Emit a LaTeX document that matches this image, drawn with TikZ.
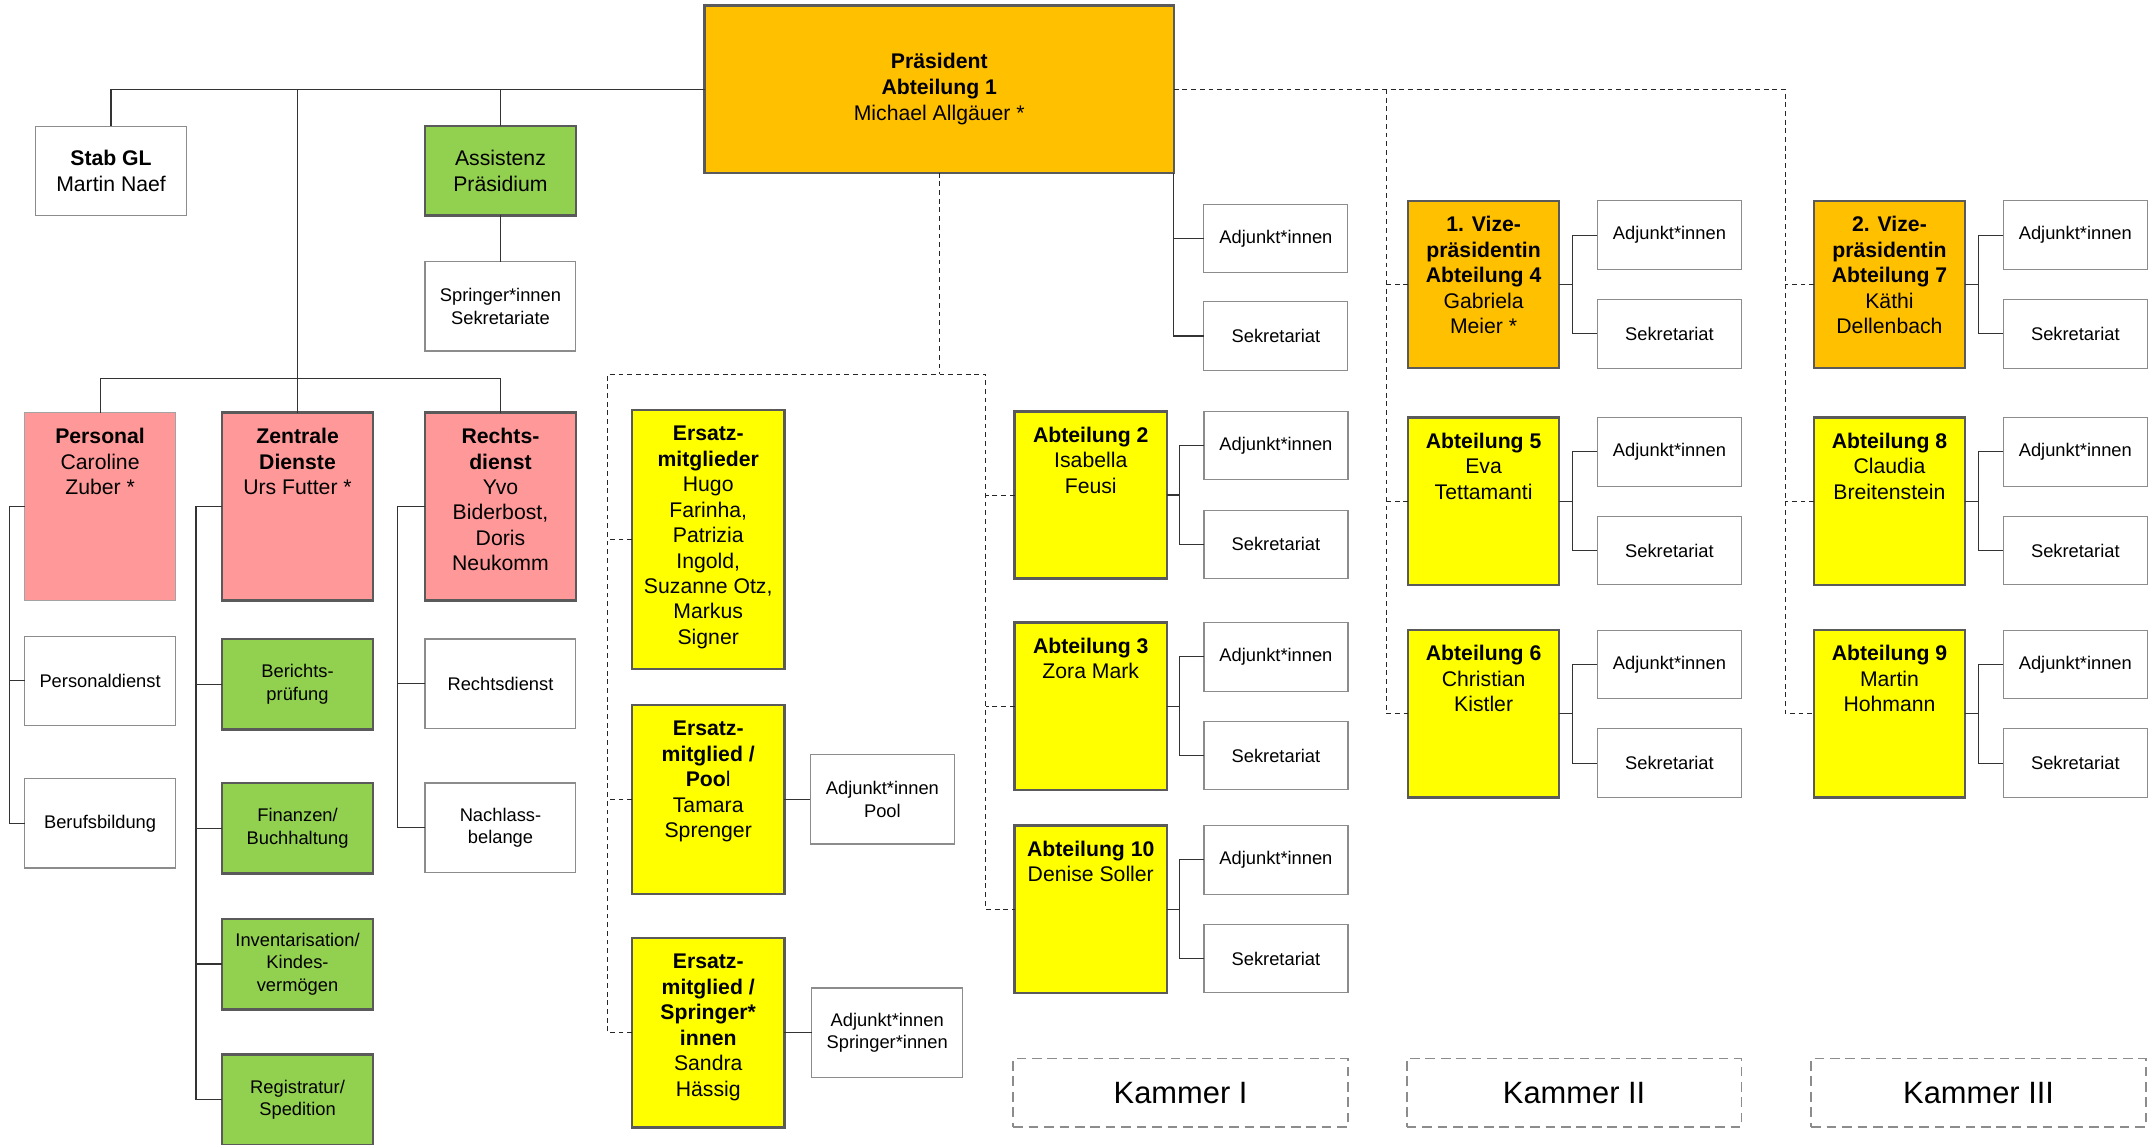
\documentclass[tikz,border=0pt]{standalone}
\usepackage{fontspec}
\setmainfont{Liberation Sans}
\usetikzlibrary{positioning}

\definecolor{presorange}{HTML}{FFC000}
\definecolor{abtyellow}{HTML}{FFFF00}
\definecolor{staffgreen}{HTML}{92D050}
\definecolor{servpink}{HTML}{FF9999}
\definecolor{boxline}{HTML}{5A5A5A}
\definecolor{thinline}{HTML}{8C8C8C}

% text block pinned to the top of a fixed-size box
\newcommand{\toptext}[3]{\parbox[c][#2][t]{#1}{\centering\rule{0pt}{16pt}#3}}

\begin{document}
\begin{tikzpicture}[
    x=0.025cm, y=-0.025cm,
    base/.style={rectangle, align=center, inner sep=1pt, outer sep=0pt},
    whitebox/.style={base, draw=thinline, line width=0.6pt, fill=white, minimum width=2.75cm, minimum height=1.625cm, font=\fontsize{9.5}{11.6}\selectfont},
    subbox/.style={whitebox, minimum width=2.625cm, minimum height=1.25cm},
    greenbox/.style={base, draw=boxline, line width=1.3pt, fill=staffgreen, minimum width=2.75cm, minimum height=1.65cm, font=\fontsize{9.5}{11.6}\selectfont},
    presbox/.style={base, draw=boxline, line width=1.3pt, fill=presorange, minimum width=8.55cm, minimum height=3.05cm, font=\fontsize{11}{13.5}\selectfont},
    headbox/.style={rectangle, draw=boxline, line width=1.3pt, inner sep=0pt, outer sep=0pt, font=\fontsize{11}{13.2}\selectfont},
    pinkbox/.style={headbox, fill=servpink},
    persbox/.style={pinkbox, draw=thinline!80, line width=0.8pt},
    abtbox/.style={headbox, fill=abtyellow},
    vizebox/.style={headbox, fill=presorange},
    kammer/.style={base, draw=thinline, line width=0.9pt, dash pattern=on 5pt off 3pt, minimum width=6.1cm, minimum height=1.25cm, font=\fontsize{16}{19}\selectfont},
    conn/.style={draw=black!80, line width=0.6pt},
    dline/.style={draw=black!85, line width=0.5pt, dash pattern=on 2.5pt off 2pt}
]
\useasboundingbox (0,0) rectangle (1568,835);
\fill[white] (0,0) rectangle (1568,835);

% Praesidium
\node[presbox] (pres) at (685,65) {\textbf{Präsident}\\\textbf{Abteilung 1}\\Michael Allgäuer *};
\node[whitebox, font=\fontsize{11}{13.2}\selectfont] (stab) at (81,124.5) {\textbf{Stab GL}\\Martin Naef};
\node[greenbox, minimum height=1.625cm, font=\fontsize{11}{13.2}\selectfont] (assist) at (365,124.5) {Assistenz\\Präsidium};
\node[whitebox, below=0.85cm of assist] (springer) {Springer*innen\\Sekretariate};
\node[subbox] (adjP) at (930.5,174) {Adjunkt*innen};
\node[subbox] (sekP) at (930.5,245) {Sekretariat};

% Personal
\node[persbox] (personal) at (73,369.5) {\toptext{2.75cm}{3.425cm}{\textbf{Personal}\\Caroline\\Zuber *}};
\node[whitebox, below=0.65cm of personal] (persdienst) {Personaldienst};
\node[whitebox, below=0.975cm of persdienst] (berufsbild) {Berufsbildung};

% Zentrale Dienste
\node[pinkbox] (zentral) at (217,369.5) {\toptext{2.75cm}{3.425cm}{\textbf{Zentrale}\\\textbf{Dienste}\\Urs Futter *}};
\node[greenbox, below=0.7cm of zentral] (bericht) {Berichts-\\prüfung};
\node[greenbox, below=0.975cm of bericht] (finanz) {Finanzen/\\Buchhaltung};
\node[greenbox, below=0.825cm of finanz] (invent) {Inventarisation/\\Kindes-\\vermögen};
\node[greenbox, below=0.825cm of invent] (registr) {Registratur/\\Spedition};

% Rechtsdienst
\node[pinkbox] (recht) at (365,369.5) {\toptext{2.75cm}{3.425cm}{\textbf{Rechts-}\\\textbf{dienst}\\Yvo\\Biderbost,\\Doris\\Neukomm}};
\node[whitebox, below=0.7cm of recht] (rechtsd) {Rechtsdienst};
\node[whitebox, below=1cm of rechtsd] (nachlass) {Nachlass-\\belange};

% Ersatzmitglieder
\node[abtbox] (ersatz) at (516.5,393.5) {\toptext{2.775cm}{4.725cm}{\textbf{Ersatz-}\\\textbf{mitglieder}\\Hugo\\Farinha,\\Patrizia\\Ingold,\\Suzanne Otz,\\Markus\\Signer}};
\node[abtbox, below=0.65cm of ersatz] (pool) {\toptext{2.775cm}{3.45cm}{\textbf{Ersatz-}\\\textbf{mitglied /}\\\textbf{Poo}l\\Tamara\\Sprenger}};
\node[abtbox, below=0.8cm of pool] (springE) {\toptext{2.775cm}{3.45cm}{\textbf{Ersatz-}\\\textbf{mitglied /}\\\textbf{Springer*}\\\textbf{innen}\\Sandra\\Hässig}};
\node[whitebox, minimum width=2.625cm, right=0.475cm of pool] (poolAdj) {Adjunkt*innen\\Pool};
\node[whitebox, right=0.5cm of springE] (springAdj) {Adjunkt*innen\\Springer*innen};

% Kammer I
\node[abtbox] (abt2) at (795.5,361) {\toptext{2.775cm}{3.05cm}{\textbf{Abteilung 2}\\Isabella\\Feusi}};
\node[abtbox, below=0.8cm of abt2] (abt3) {\toptext{2.775cm}{3.05cm}{\textbf{Abteilung 3}\\Zora Mark}};
\node[abtbox, below=0.65cm of abt3] (abt10) {\toptext{2.775cm}{3.05cm}{\textbf{Abteilung 10}\\Denise Soller}};
\node[subbox, right=0.675cm of abt2.north east, anchor=north west] (adj2) {Adjunkt*innen};
\node[subbox, right=0.675cm of abt2.south east, anchor=south west] (sek2) {Sekretariat};
\node[subbox, right=0.675cm of abt3.north east, anchor=north west] (adj3) {Adjunkt*innen};
\node[subbox, right=0.675cm of abt3.south east, anchor=south west] (sek3) {Sekretariat};
\node[subbox, right=0.675cm of abt10.north east, anchor=north west] (adj10) {Adjunkt*innen};
\node[subbox, right=0.675cm of abt10.south east, anchor=south west] (sek10) {Sekretariat};

% Kammer II
\node[vizebox] (abt4) at (1082,207.5) {\toptext{2.75cm}{3.05cm}{\textbf{1. Vize-}\\\textbf{präsidentin}\\\textbf{Abteilung 4}\\Gabriela\\Meier *}};
\node[abtbox, below=0.9cm of abt4] (abt5) {\toptext{2.75cm}{3.05cm}{\textbf{Abteilung 5}\\Eva\\Tettamanti}};
\node[abtbox, below=0.825cm of abt5] (abt6) {\toptext{2.75cm}{3.05cm}{\textbf{Abteilung 6}\\Christian\\Kistler}};
\node[subbox, right=0.7cm of abt4.north east, anchor=north west] (adj4) {Adjunkt*innen};
\node[subbox, right=0.7cm of abt4.south east, anchor=south west] (sek4) {Sekretariat};
\node[subbox, right=0.7cm of abt5.north east, anchor=north west] (adj5) {Adjunkt*innen};
\node[subbox, right=0.7cm of abt5.south east, anchor=south west] (sek5) {Sekretariat};
\node[subbox, right=0.7cm of abt6.north east, anchor=north west] (adj6) {Adjunkt*innen};
\node[subbox, right=0.7cm of abt6.south east, anchor=south west] (sek6) {Sekretariat};

% Kammer III
\node[vizebox] (abt7) at (1378,207.5) {\toptext{2.75cm}{3.05cm}{\textbf{2. Vize-}\\\textbf{präsidentin}\\\textbf{Abteilung 7}\\Käthi\\Dellenbach}};
\node[abtbox, below=0.9cm of abt7] (abt8) {\toptext{2.75cm}{3.05cm}{\textbf{Abteilung 8}\\Claudia\\Breitenstein}};
\node[abtbox, below=0.825cm of abt8] (abt9) {\toptext{2.75cm}{3.05cm}{\textbf{Abteilung 9}\\Martin\\Hohmann}};
\node[subbox, right=0.7cm of abt7.north east, anchor=north west] (adj7) {Adjunkt*innen};
\node[subbox, right=0.7cm of abt7.south east, anchor=south west] (sek7) {Sekretariat};
\node[subbox, right=0.7cm of abt8.north east, anchor=north west] (adj8) {Adjunkt*innen};
\node[subbox, right=0.7cm of abt8.south east, anchor=south west] (sek8) {Sekretariat};
\node[subbox, right=0.7cm of abt9.north east, anchor=north west] (adj9) {Adjunkt*innen};
\node[subbox, right=0.7cm of abt9.south east, anchor=south west] (sek9) {Sekretariat};

% Kammer labels
\node[kammer] (kam1) at (861,797) {Kammer I};
\node[kammer] (kam2) at (1148,797) {Kammer II};
\node[kammer] (kam3) at (1443,797) {Kammer III};

% solid lines, Praesidium
\coordinate (bar) at (216,276);
\draw[conn] (pres.west) -| (stab.north);
\draw[conn] (assist.north) -- (assist.north |- pres.west);
\draw[conn] (zentral.north) -- (zentral.north |- pres.west);
\draw[conn] (assist.south) -- (springer.north);
\draw[conn] (personal.north) |- (bar) -| (recht.north);
\draw[conn] (pres.south east) |- (sekP.west);
\draw[conn] (adjP.west) -- (adjP.west -| pres.east);

% solid lines, services
\draw[conn] (personal.west) -- ++(-11,0) coordinate (pt) |- (berufsbild.west);
\draw[conn] (persdienst.west) -- (persdienst.west -| pt);
\draw[conn] (zentral.west) -- ++(-19,0) coordinate (zt) |- (registr.west);
\draw[conn] (bericht.west) -- (bericht.west -| zt);
\draw[conn] (finanz.west) -- (finanz.west -| zt);
\draw[conn] (invent.west) -- (invent.west -| zt);
\draw[conn] (recht.west) -- ++(-20,0) coordinate (rt) |- (nachlass.west);
\draw[conn] (rechtsd.west) -- (rechtsd.west -| rt);
\draw[conn] (pool.east) -- (poolAdj.west);
\draw[conn] (springE.east) -- (springAdj.west);

% solid lines, Abteilungen
\draw[conn] (adj2.west) -- ++(-18,0) coordinate (j2) |- (sek2.west);
\draw[conn] (abt2.east) -- (abt2.east -| j2);
\draw[conn] (adj3.west) -- ++(-18,0) coordinate (j3) |- (sek3.west);
\draw[conn] (abt3.east) -- (abt3.east -| j3);
\draw[conn] (adj10.west) -- ++(-18,0) coordinate (j10) |- (sek10.west);
\draw[conn] (abt10.east) -- (abt10.east -| j10);
\draw[conn] (adj4.west) -- ++(-18,0) coordinate (j4) |- (sek4.west);
\draw[conn] (abt4.east) -- (abt4.east -| j4);
\draw[conn] (adj5.west) -- ++(-18,0) coordinate (j5) |- (sek5.west);
\draw[conn] (abt5.east) -- (abt5.east -| j5);
\draw[conn] (adj6.west) -- ++(-18,0) coordinate (j6) |- (sek6.west);
\draw[conn] (abt6.east) -- (abt6.east -| j6);
\draw[conn] (adj7.west) -- ++(-18,0) coordinate (j7) |- (sek7.west);
\draw[conn] (abt7.east) -- (abt7.east -| j7);
\draw[conn] (adj8.west) -- ++(-18,0) coordinate (j8) |- (sek8.west);
\draw[conn] (abt8.east) -- (abt8.east -| j8);
\draw[conn] (adj9.west) -- ++(-18,0) coordinate (j9) |- (sek9.west);
\draw[conn] (abt9.east) -- (abt9.east -| j9);

% dashed lines
\coordinate (dl) at (443,273);
\coordinate (dr) at (719,273);
\coordinate (kII) at (1011,65);
\coordinate (kIII) at (1302,65);
\draw[dline] (pres.south) -- (pres.south |- dl);
\draw[dline] (springE.west) -| (dl) -- (dr) |- (abt10.west);
\draw[dline] (ersatz.west) -- (ersatz.west -| dl);
\draw[dline] (pool.west) -- (pool.west -| dl);
\draw[dline] (abt2.west) -- (abt2.west -| dr);
\draw[dline] (abt3.west) -- (abt3.west -| dr);
\draw[dline] (pres.east) -- (kIII) |- (abt9.west);
\draw[dline] (kII) |- (abt6.west);
\draw[dline] (abt4.west) -- (abt4.west -| kII);
\draw[dline] (abt5.west) -- (abt5.west -| kII);
\draw[dline] (abt7.west) -- (abt7.west -| kIII);
\draw[dline] (abt8.west) -- (abt8.west -| kIII);

\end{tikzpicture}
\end{document}
